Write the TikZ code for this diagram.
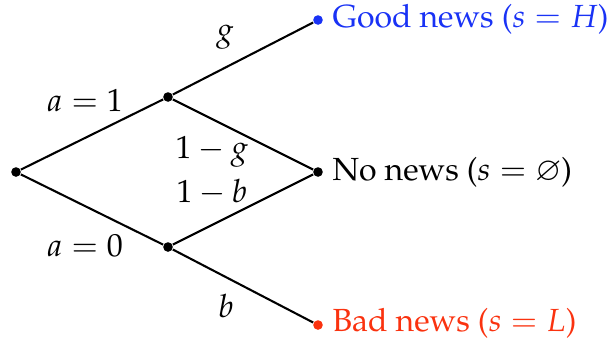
\documentclass[tikz,border=0pt]{standalone}
\usepackage[T1]{fontenc}
\usepackage{amssymb}
\usepackage{mathpazo}
\definecolor{newsblue}{RGB}{25,50,245}
\definecolor{newsred}{RGB}{250,50,15}
\tikzset{
  dotnode/.style={circle,fill=black,inner sep=0pt,minimum size=3pt},
  branch/.style={line width=0.65pt},
  lbl/.style={inner sep=0pt},
  outcome/.style={anchor=west,inner sep=0pt}
}
\begin{document}
\begin{tikzpicture}[x=0.3125pt,y=-0.3125pt]
\useasboundingbox (0,0) rectangle (608,343);
\node[dotnode] (r) at (16,172) {};
\node[dotnode] (u) at (168,97) {};
\node[dotnode] (d) at (168,247) {};
\node[dotnode,fill=newsblue] (g) at (318,20) {};
\node[dotnode] (n) at (318,172) {};
\node[dotnode,fill=newsred] (b) at (318,325) {};
\draw[branch] (r) -- (u);
\draw[branch] (r) -- (d);
\draw[branch] (u) -- (g);
\draw[branch] (u) -- (n);
\draw[branch] (d) -- (n);
\draw[branch] (d) -- (b);
\node[lbl] (l1) at (85,100) {$a=1$};
\node[lbl] (l0) at (85,246) {$a=0$};
\node[lbl] (lg) at (225,37) {$g$};
\node[lbl] (l1g) at (212,152) {$1-g$};
\node[lbl] (l1b) at (212,192) {$1-b$};
\node[lbl] (lb) at (226,306) {$b$};
\node[outcome,text=newsblue] (tg) at (332,19) {Good news ($s=H$)};
\node[outcome] (tn) at (332,172) {No news ($s=\varnothing$)};
\node[outcome,text=newsred] (tb) at (332,323) {Bad news ($s=L$)};
\end{tikzpicture}
\end{document}
